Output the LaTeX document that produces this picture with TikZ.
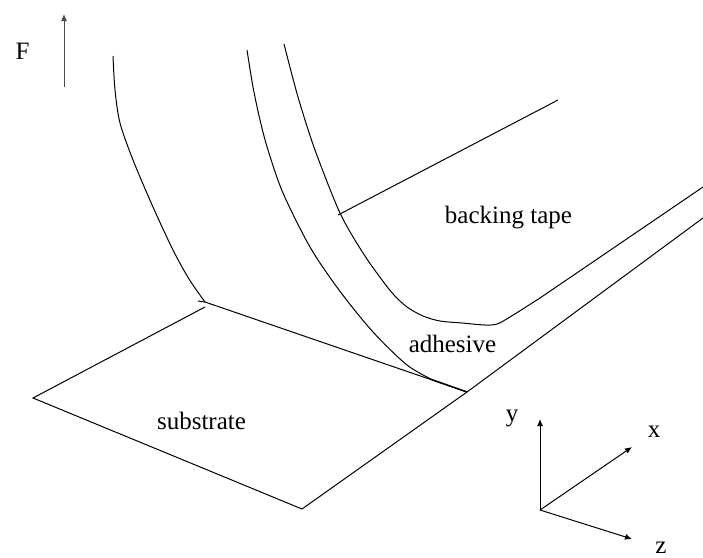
\documentclass[tikz,border=0pt]{standalone}
\usepackage{fontspec}
\setmainfont{Liberation Serif}
\usetikzlibrary{positioning,arrows.meta}

\begin{document}
\begin{tikzpicture}[x=1pt,y=-1pt,line width=1pt,
    label text/.style={font=\fontsize{25}{28}\selectfont, inner sep=0pt, anchor=base},
    axis arrow/.style={-{Latex[length=7pt,width=6pt]}}]
    \useasboundingbox (0,0) rectangle (703,557);

    % Force arrow
    \coordinate (forcebase) at (64,87);
    \coordinate (forcetip) at (64,14);
    \draw[axis arrow, black!70] (forcebase) -- (forcetip);
    \node (force) [label text] at (22.5,59) {F};

    % Corners of the substrate
    \coordinate (peelleft) at (205,302);
    \coordinate (peelfront) at (467,392);
    \coordinate (peelmerge) at (433,380);
    \coordinate (subleft) at (33,398);
    \coordinate (subfront) at (302,509);
    \coordinate (subright) at (703,218);
    \coordinate (subback) at (205,307);
    \draw (peelleft) -- (peelfront);
    \draw (subback) -- (subleft) -- (subfront) -- (peelfront) -- (subright);
    \draw (198,301) -- (peelleft);

    % Peeled strip, left edge
    \draw plot[smooth] coordinates {(113,56) (115,90) (120,123) (133,160) (153,207) (173,250) (189,279) (205,302)};

    % Adhesive edge
    \draw plot[smooth] coordinates {(247,50) (253,87) (260,120) (268,150) (283,193) (310,247) (339,290) (373,332) (407,365) (433,380)};
    \draw[line width=1.5pt] (peelmerge) -- (peelfront);

    % Backing tape edge
    \draw plot[smooth] coordinates {(284,44) (298,97) (315,150) (340,213) (363,253) (382,280) (394,295) (407,307) (423,316) (440,321) (462,323) (485,325) (497,324) (510,317) (540,298)};
    \coordinate (backingend) at (703,187);
    \draw (540,298) -- (backingend);
    \coordinate (backingstart) at (338,215);
    \coordinate (backingtop) at (558,100);
    \draw (backingstart) -- (backingtop);

    % Labels
    \node (backing) [label text] at (508.5,223.5) {backing tape};
    \node (adhesive) [label text] at (452.5,352) {adhesive};
    \node (substrate) [label text] at (201.5,429) {substrate};

    % Axes
    \coordinate (origin) at (540,510);
    \coordinate (ytip) at (540,419);
    \coordinate (xtip) at (632,447);
    \coordinate (ztip) at (632,539);
    \draw[axis arrow] (origin) -- (ytip);
    \draw[axis arrow] (origin) -- (xtip);
    \draw[axis arrow] (origin) -- (ztip);
    \node (ylabel) [label text] at (512,421) {y};
    \node (xlabel) [label text] at (654,437) {x};
    \node (zlabel) [label text] at (661,553) {z};
\end{tikzpicture}
\end{document}
